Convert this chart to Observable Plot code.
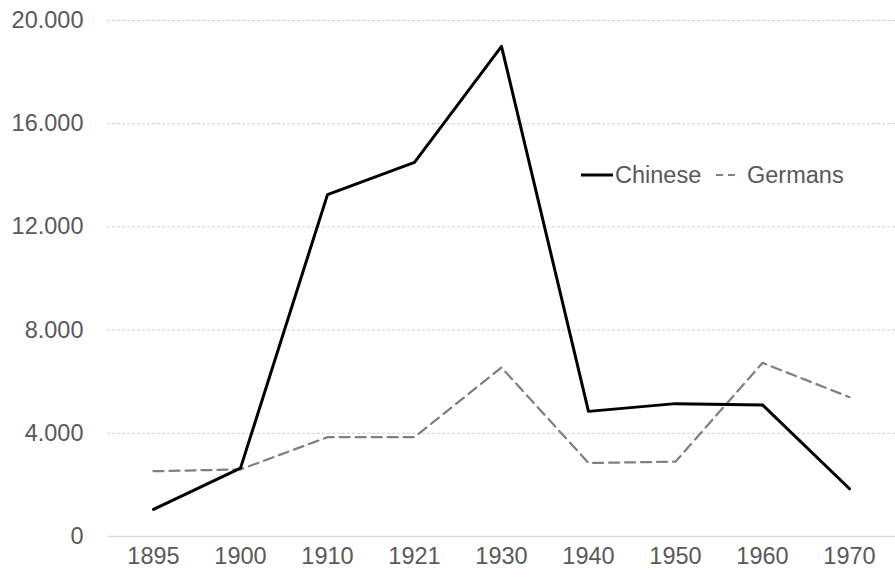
<!DOCTYPE html>
<html>
<head>
<meta charset="utf-8">
<script src="https://cdn.jsdelivr.net/npm/d3@7"></script>
<script src="https://cdn.jsdelivr.net/npm/@observablehq/plot@0.6"></script>
<style>
  html, body { margin: 0; padding: 0; background: #fff; }
  #chart { position: relative; width: 895px; height: 586px; }
</style>
</head>
<body>
<div id="chart"></div>
<script>
const years = ["1895", "1900", "1910", "1921", "1930", "1940", "1950", "1960", "1970"];
const chinese = [1050, 2650, 13250, 14500, 19000, 4850, 5150, 5100, 1850];
const germans = [2530, 2600, 3850, 3850, 6550, 2850, 2900, 6730, 5400];
const yTicks = [0, 4000, 8000, 12000, 16000, 20000];
const seriesNames = ["Chinese", "Germans"];

const de = d3.formatLocale({decimal: ",", thousands: ".", grouping: [3], currency: ["", "€"]});
const fmt = de.format(",");

const chData = years.map((y, i) => ({year: y, value: chinese[i]}));
const geData = years.map((y, i) => ({year: y, value: germans[i]}));

const font = "'Liberation Sans', Arial, sans-serif";
const textColor = "#595959";
const fs = 23.5;

const plot = Plot.plot({
  width: 895,
  height: 586,
  marginLeft: 107,
  marginRight: 0,
  marginTop: 20,
  marginBottom: 50,
  style: {fontFamily: font, fontSize: fs + "px", color: textColor, background: "#fff"},
  x: {type: "point", domain: years, padding: 0.5, label: null},
  y: {domain: [0, 20000], ticks: yTicks, label: null},
  marks: [
    Plot.gridY(yTicks.filter(d => d > 0), {stroke: "#d0d0d0", strokeOpacity: 1, strokeWidth: 1, strokeDasharray: "3,2"}),
    Plot.ruleY([0], {stroke: "#d9d9d9", strokeWidth: 1.5}),
    Plot.axisY({ticks: yTicks, tickSize: 0, tickPadding: 24, tickFormat: fmt, fill: textColor, fontSize: fs, label: null}),
    Plot.axisX({tickSize: 0, tickPadding: 11, fill: textColor, fontSize: fs, label: null}),
    Plot.line(geData, {x: "year", y: "value", stroke: "#808080", strokeWidth: 2.25, strokeDasharray: "10,6"}),
    Plot.line(chData, {x: "year", y: "value", stroke: "#000", strokeWidth: 3})
  ]
});

document.getElementById("chart").appendChild(plot);

// Legend inside the plot area
const svg = d3.select(plot);
const lg = svg.append("g").attr("font-family", font).attr("font-size", fs)
  .attr("fill", textColor).attr("text-anchor", "start");
lg.append("line").attr("x1", 581).attr("x2", 613).attr("y1", 175).attr("y2", 175)
  .attr("stroke", "#000").attr("stroke-width", 3);
lg.append("text").attr("x", 615).attr("y", 175).attr("dy", "0.36em").text(seriesNames[0]);
lg.append("line").attr("x1", 716).attr("x2", 735).attr("y1", 175).attr("y2", 175)
  .attr("stroke", "#808080").attr("stroke-width", 2).attr("stroke-dasharray", "7,5");
lg.append("text").attr("x", 747).attr("y", 175).attr("dy", "0.36em").text(seriesNames[1]);
</script>
</body>
</html>
